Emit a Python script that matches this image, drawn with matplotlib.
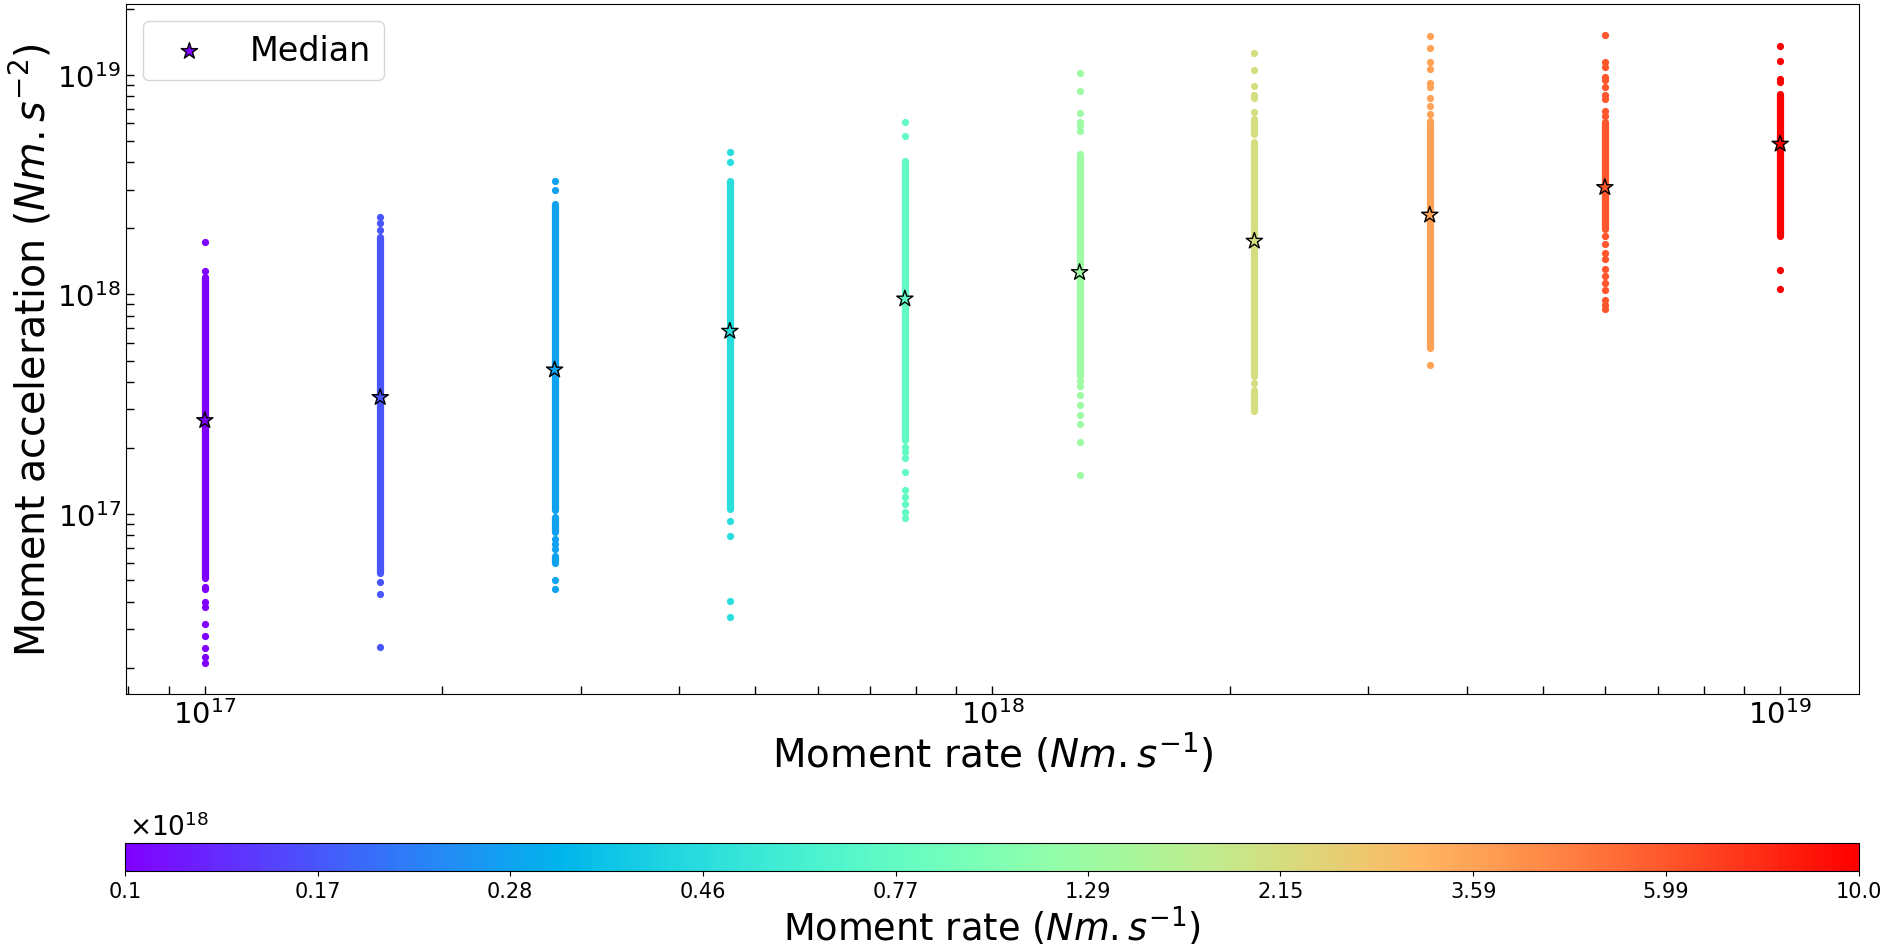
import numpy as np
import matplotlib.pyplot as plt
from matplotlib.colors import LogNorm
from matplotlib.cm import ScalarMappable
from matplotlib.ticker import NullLocator

# moment rate bins (Nm/s)
moment_rate = np.array([1.00e17, 1.67e17, 2.78e17, 4.64e17, 7.74e17,
                        1.29e18, 2.15e18, 3.59e18, 5.99e18, 1.00e19])

# median moment acceleration per bin
median_acc = np.array([2.67e17, 3.40e17, 4.54e17, 6.81e17, 9.55e17,
                       1.26e18, 1.75e18, 2.30e18, 3.07e18, 4.84e18])

# stretches where the samples overlap into a solid column: (low, high)
dense_runs = [
    [(5.11e16, 1.20e18)],
    [(5.40e16, 1.83e18)],
    [(1.04e17, 2.59e18), (8.26e16, 9.66e16), (5.97e16, 6.43e16)],
    [(1.06e17, 3.27e18)],
    [(2.18e17, 4.06e18)],
    [(4.24e17, 4.36e18)],
    [(5.38e18, 6.30e18), (4.24e17, 4.93e18), (2.96e17, 3.68e17)],
    [(5.71e17, 6.18e18)],
    [(1.98e18, 6.08e18)],
    [(1.85e18, 8.18e18)],
]

# isolated samples outside the solid stretches
single_points = [
    [1.73e18, 1.28e18, 4.66e16, 4.57e16, 3.99e16, 3.76e16, 3.16e16,
     2.78e16, 2.47e16, 2.23e16, 2.11e16],
    [2.24e18, 2.12e18, 1.97e18, 4.89e16, 4.33e16, 2.49e16],
    [3.29e18, 3.00e18, 7.74e16, 7.31e16, 6.92e16, 5.02e16, 4.56e16],
    [4.44e18, 4.00e18, 9.31e16, 7.94e16, 4.03e16, 3.40e16],
    [6.08e18, 5.25e18, 2.03e17, 1.92e17, 1.80e17, 1.56e17, 1.29e17,
     1.20e17, 1.11e17, 1.02e17, 9.59e16],
    [1.02e19, 8.39e18, 6.70e18, 6.12e18, 5.87e18, 5.57e18, 4.02e17,
     3.81e17, 3.49e17, 3.15e17, 2.83e17, 2.58e17, 2.12e17, 1.51e17],
    [1.25e19, 1.05e19, 8.87e18, 8.05e18, 7.85e18, 6.76e18, 3.95e17],
    [1.50e19, 1.32e19, 1.14e19, 1.06e19, 9.16e18, 8.79e18, 7.83e18,
     7.19e18, 6.64e18, 4.75e17],
    [1.51e19, 1.14e19, 1.08e19, 9.75e18, 9.42e18, 8.79e18, 8.05e18,
     7.76e18, 6.87e18, 6.52e18, 1.85e18, 1.69e18, 1.55e18, 1.45e18,
     1.30e18, 1.21e18, 1.13e18, 1.05e18, 9.48e17, 8.99e17, 8.55e17],
    [1.35e19, 1.15e19, 9.59e18, 9.31e18, 1.29e18, 1.06e18],
]

fig = plt.figure(figsize=(18.84, 9.45), dpi=100)
ax = fig.add_axes([0.0669, 0.2646, 0.9198, 0.7301])
cax = fig.add_axes([0.0664, 0.0773, 0.9204, 0.0296])

norm = LogNorm(vmin=moment_rate[0], vmax=moment_rate[-1])
cmap = plt.get_cmap('rainbow')
colors = cmap(norm(moment_rate))

for i, mr in enumerate(moment_rate):
    lo = [r[0] for r in dense_runs[i]]
    hi = [r[1] for r in dense_runs[i]]
    ax.vlines([mr] * len(lo), lo, hi, colors=[colors[i]], linewidth=5.2,
              capstyle='round', zorder=2)
    pts = single_points[i]
    ax.scatter([mr] * len(pts), pts, color=colors[i], s=27, linewidths=0,
               zorder=2)

ax.scatter(moment_rate, median_acc, c=colors, marker='*', s=150,
           edgecolors='k', linewidths=1, zorder=3, label='Median')

ax.set_xscale('log')
ax.set_yscale('log')
ax.tick_params(which='both', direction='in', length=6, width=1,
               top=False, right=False, labelsize=21)
ax.set_xlabel(r'Moment rate $(Nm.s^{-1})$', fontsize=28, labelpad=1)
ax.set_ylabel(r'Moment acceleration $(Nm.s^{-2})$', fontsize=28.5,
              labelpad=2)
ax.legend(loc='upper left', fontsize=24)

cb = fig.colorbar(ScalarMappable(norm=norm, cmap=cmap), cax=cax,
                  orientation='horizontal')
cb.set_ticks(moment_rate,
             labels=[str(v) for v in np.round(moment_rate / 1e18, 2)])
cax.xaxis.set_minor_locator(NullLocator())
cax.tick_params(labelsize=15)
cb.set_label(r'Moment rate $(Nm.s^{-1})$', fontsize=26.5, labelpad=2)
cax.text(0.002, 1.08, r'$\times10^{18}$', transform=cax.transAxes,
         fontsize=19, ha='left', va='bottom')

fig.savefig('out.png', dpi=100)
